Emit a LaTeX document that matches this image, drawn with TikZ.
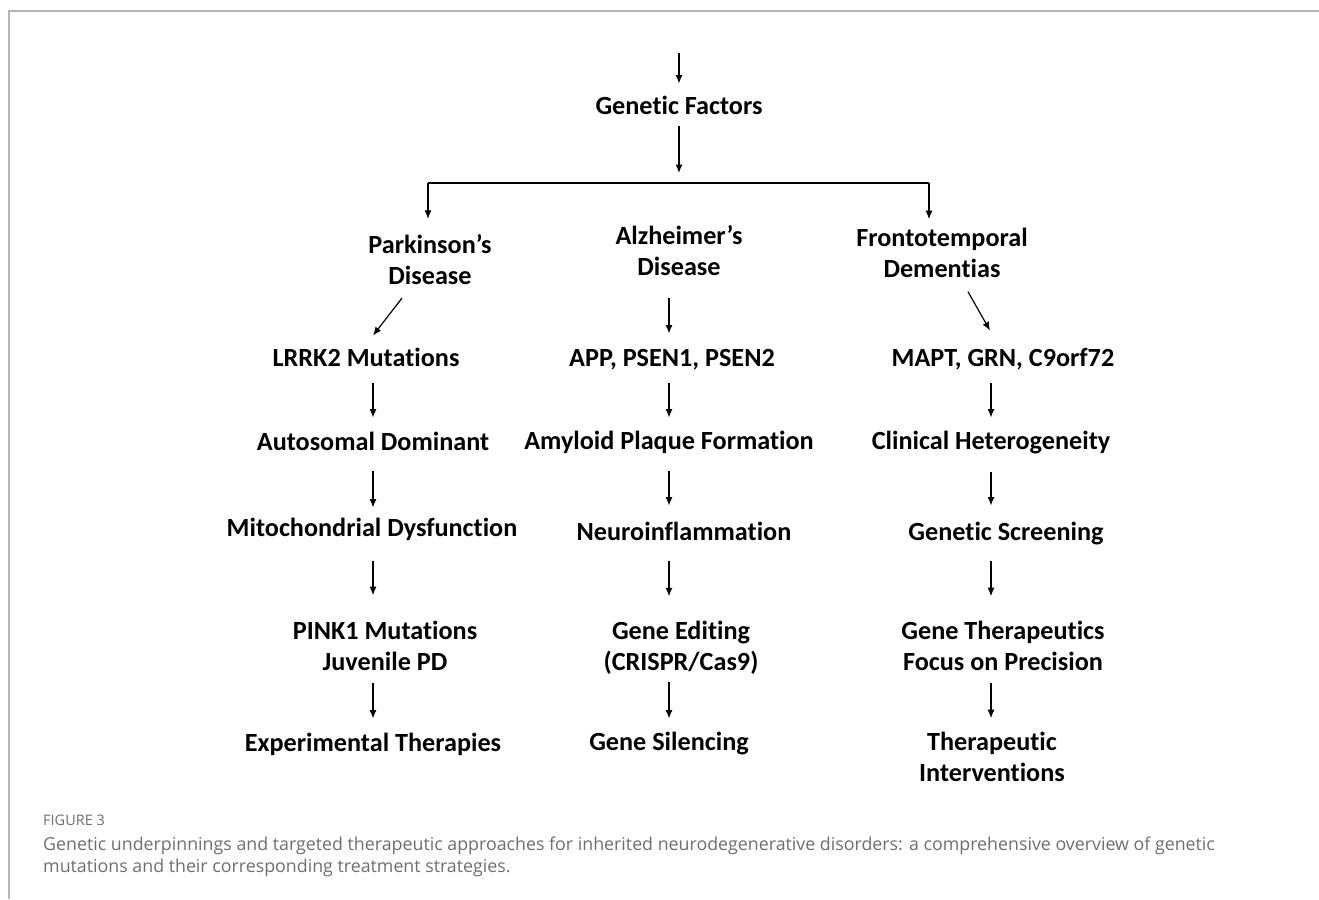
\documentclass[tikz,border=0pt]{standalone}
\usepackage{fontspec}
\setmainfont[Ligatures={TeX,NoCommon}]{Carlito}
\newfontfamily\capfont{Open Sans}
\usetikzlibrary{arrows.meta,calc}
\definecolor{framegray}{HTML}{B5B5B5}
\definecolor{capgray}{HTML}{6E6E6E}
\begin{document}
\begin{tikzpicture}[x=1pt,y=-1pt,
  lab/.style={font=\bfseries\fontsize{26.2}{31}\selectfont, inner sep=0pt, outer sep=0pt, text height=18.5pt, text depth=5.5pt},
  lab2/.style={font=\bfseries\fontsize{26.2}{31}\selectfont, inner sep=0pt, outer sep=0pt, align=center},
  arr/.style={draw=black, line width=1.2pt, -{Latex[length=8.5pt,width=7pt]}},
]
\useasboundingbox (0,0) rectangle (1319,899);
\draw[framegray, line width=2pt] (9,899) -- (9,11) -- (1319,11);

% nodes
\node[lab] (gf) at (679,108) {Genetic Factors};
\node[lab2] (pd) at (430,260) {Parkinson's\\Disease};
\node[lab2] (ad) at (679,251) {Alzheimer's\\Disease};
\node[lab2] (ftd) at (942,253) {Frontotemporal\\Dementias};

\node[lab] (lrrk) at (366,360) {LRRK2 Mutations};
\node[lab] (auto) at (373,444) {Autosomal Dominant};
\node[lab] (mito) at (372,530) {Mitochondrial Dysfunction};
\node[lab2] (pink) at (385,646) {PINK1 Mutations\\Juvenile PD};
\node[lab] (exp) at (373,745) {Experimental Therapies};

\node[lab] (app) at (672,360) {APP, PSEN1, PSEN2};
\node[lab] (amy) at (669,443) {Amyloid Plaque Formation};
\node[lab] (neuro) at (684,534) {Neuroinflammation};
\node[lab2] (edit) at (681,648) {Gene Editing\\(CRISPR/Cas9)};
\node[lab] (sil) at (669,744) {Gene Silencing};

\node[lab] (mapt) at (1003,360) {MAPT, GRN, C9orf72};
\node[lab] (clin) at (991,443) {Clinical Heterogeneity};
\node[lab] (screen) at (1006,534) {Genetic Screening};
\node[lab2] (ther) at (1003,646) {Gene Therapeutics\\Focus on Precision};
\node[lab2] (interv) at (992,757) {Therapeutic\\Interventions};

% column coordinates
\coordinate (colP) at (373,0);
\coordinate (colA) at (669,0);
\coordinate (colF) at (991,0);
\coordinate (top) at (679,53);
\coordinate (bl) at (428,183);
\coordinate (br) at (929,183);
\coordinate (bm) at (679,183);

% top part
\draw[arr, shorten >=12.5pt] (top) -- (gf.north);
\draw[arr, shorten <=5.5pt, shorten >=10pt] (gf.south) -- (bm);
\draw[line width=1.8pt] (bl) -- (br);
\draw[arr, shorten >=16pt] (bl) -- (pd.north -| bl);
\draw[arr, shorten >=9pt] (br) -- (ftd.north -| br);

% Parkinson column
\draw[arr] ($(pd.south)+(-28,13)$) -- ($(lrrk.north)+(7,-12.5)$);
\draw[arr, shorten <=10.5pt, shorten >=14.5pt] (lrrk.south -| colP) -- (auto.north -| colP);
\draw[arr, shorten <=14.5pt, shorten >=10.5pt] (auto.south -| colP) -- (mito.north -| colP);
\draw[arr, shorten <=18.5pt, shorten >=26pt] (mito.south -| colP) -- (pink.north -| colP);
\draw[arr, shorten <=12.5pt, shorten >=14.5pt] (pink.south -| colP) -- (exp.north -| colP);

% Alzheimer column
\draw[arr, shorten <=21.5pt, shorten >=14.5pt] (ad.south -| colA) -- (app.north -| colA);
\draw[arr, shorten <=10.5pt, shorten >=13.5pt] (app.south -| colA) -- (amy.north -| colA);
\draw[arr, shorten <=15.5pt, shorten >=16.5pt] (amy.south -| colA) -- (neuro.north -| colA);
\draw[arr, shorten <=14.5pt, shorten >=25pt] (neuro.south -| colA) -- (edit.north -| colA);
\draw[arr, shorten <=7.5pt, shorten >=13.5pt] (edit.south -| colA) -- (sil.north -| colA);

% FTD column
\draw[arr] ($(ftd.south)+(26,14)$) -- ($(mapt.north)+(-13,-17.5)$);
\draw[arr, shorten <=10.5pt, shorten >=13.5pt] (mapt.south -| colF) -- (clin.north -| colF);
\draw[arr, shorten <=16.5pt, shorten >=16.5pt] (clin.south -| colF) -- (screen.north -| colF);
\draw[arr, shorten <=14.5pt, shorten >=25pt] (screen.south -| colF) -- (ther.north -| colF);
\draw[arr, shorten <=12.5pt, shorten >=14pt] (ther.south -| colF) -- (interv.north -| colF);

% caption
\node[anchor=west, inner sep=0pt, font=\capfont\fontsize{14.5}{17}\selectfont, text=capgray] (figlbl) at (43,820) {FIGURE 3};
\node[anchor=north west, align=left, inner sep=0pt, font=\capfont\fontsize{17.8}{21.5}\selectfont, text=capgray] (cap) at (43,837) {Genetic underpinnings and targeted therapeutic approaches for inherited neurodegenerative disorders: a comprehensive overview of genetic\\mutations and their corresponding treatment strategies.};
\end{tikzpicture}
\end{document}
